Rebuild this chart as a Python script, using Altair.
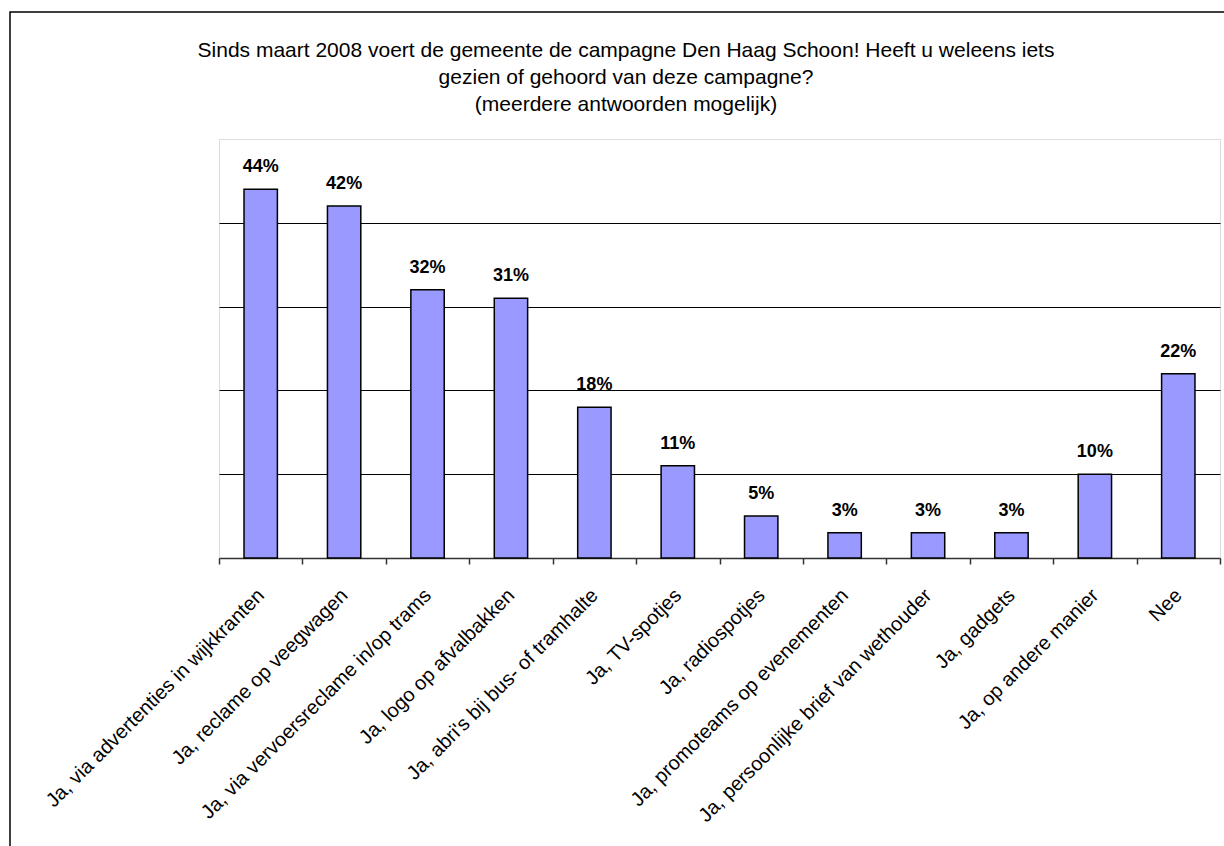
import altair as alt
import pandas as pd

categories = [
    "Ja, via advertenties in wijkkranten",
    "Ja, reclame op veegwagen",
    "Ja, via vervoersreclame in/op trams",
    "Ja, logo op afvalbakken",
    "Ja, abri's bij bus- of tramhalte",
    "Ja, TV-spotjes",
    "Ja, radiospotjes",
    "Ja, promoteams op evenementen",
    "Ja, persoonlijke brief van wethouder",
    "Ja, gadgets",
    "Ja, op andere manier",
    "Nee",
]
values = [44, 42, 32, 31, 18, 11, 5, 3, 3, 3, 10, 22]
labels = [f"{v}%" for v in values]

title_lines = [
    "Sinds maart 2008 voert de gemeente de campagne Den Haag Schoon! Heeft u weleens iets",
    "gezien of gehoord van deze campagne?",
    "(meerdere antwoorden mogelijk)",
]

FONT = "Liberation Sans"

df = pd.DataFrame({"cat": categories, "val": values, "lab": labels})

x = alt.X(
    "cat:N",
    sort=None,
    scale=alt.Scale(paddingInner=0, paddingOuter=0),
    axis=alt.Axis(
        title=None,
        labelAngle=-45,
        labelAlign="right",
        labelBaseline="middle",
        labelFont=FONT,
        labelFontSize=20,
        labelColor="black",
        labelPadding=28,
        labelLimit=0,
        tickBand="extent",
        tickSize=6,
        tickColor="#333333",
        tickWidth=1.5,
        domainColor="#333333",
        domainWidth=1.5,
        grid=False,
    ),
)
y = alt.Y(
    "val:Q",
    scale=alt.Scale(domain=[0, 50], nice=False),
    axis=alt.Axis(
        title=None,
        labels=False,
        ticks=False,
        domain=False,
        grid=True,
        values=[10, 20, 30, 40],
        gridColor="black",
        gridWidth=1,
        gridOpacity=1,
    ),
)

bars = alt.Chart(df).mark_bar(
    color="#9999FF", stroke="black", strokeWidth=1.5, width=alt.RelativeBandSize(0.4)
).encode(x=x, y=y)

text = alt.Chart(df).mark_text(
    font=FONT, fontSize=18, fontWeight="bold", baseline="alphabetic", dy=-17, color="black"
).encode(x=alt.X("cat:N", sort=None), y=alt.Y("val:Q"), text="lab:N")

frame = alt.Chart(pd.DataFrame({"k": [0]})).mark_rect(
    fill=None, stroke="black", strokeWidth=1.5
).encode(
    x=alt.value(-209), x2=alt.value(1030), y=alt.value(-127), y2=alt.value(730)
)

title_layers = []
for line, yb in zip(title_lines, [57, 84, 111]):
    title_layers.append(
        alt.Chart(pd.DataFrame({"t": [line]})).mark_text(
            font=FONT, fontSize=21, baseline="alphabetic", align="center", color="black"
        ).encode(x=alt.value(407), y=alt.value(yb - 139), text="t:N")
    )

chart = alt.layer(frame, bars, text, *title_layers).properties(
    width=1001,
    height=419,
    padding={"left": 219, "top": 139, "right": 4, "bottom": 288},
    autosize=alt.AutoSizeParams(type="none"),
).configure_view(stroke="#888888", strokeWidth=1.5).configure(background="white")

chart.save("out.html", embed_options={"renderer": "svg", "actions": False})
